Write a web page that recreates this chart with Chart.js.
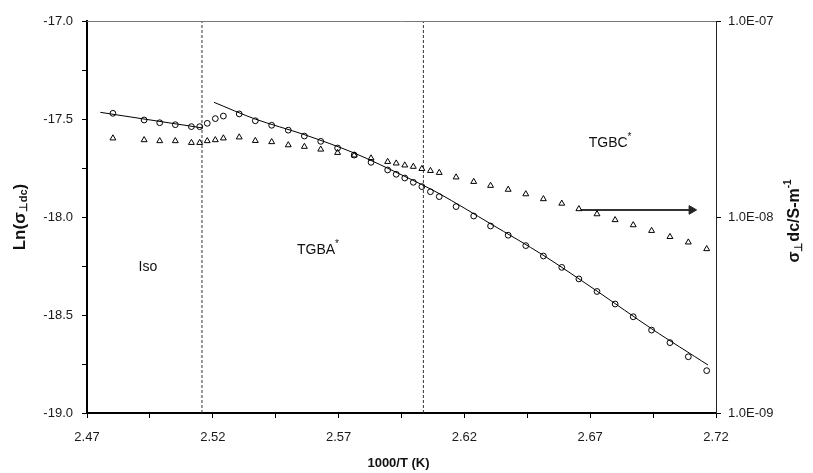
<!DOCTYPE html>
<html><head><meta charset="utf-8">
<script src="https://cdn.jsdelivr.net/npm/chart.js@4.4.1/dist/chart.umd.min.js"></script>
<style>html,body{margin:0;padding:0;background:#fff}#wrap{width:813px;height:473px}</style>
</head><body><div id="wrap"><canvas id="c" width="813" height="473"></canvas></div>
<script>
// ---- data ----
const invT = [2.4803, 2.4927, 2.4989, 2.5051, 2.5115, 2.5148, 2.5178, 2.5210, 2.5242, 2.5305,
  2.5369, 2.5434, 2.5500, 2.5564, 2.5629, 2.5696, 2.5762, 2.5829, 2.5895, 2.5929,
  2.5963, 2.5997, 2.6031, 2.6065, 2.6100, 2.6167, 2.6237, 2.6304, 2.6374, 2.6444,
  2.6514, 2.6587, 2.6655, 2.6727, 2.6799, 2.6871, 2.6944, 2.7017, 2.7090, 2.7163];
const lnSigmaCircle = [-17.471, -17.505, -17.519, -17.529, -17.539, -17.539, -17.522, -17.498, -17.485, -17.474,
  -17.509, -17.532, -17.557, -17.587, -17.614, -17.648, -17.684, -17.721, -17.760, -17.782,
  -17.801, -17.823, -17.845, -17.871, -17.896, -17.947, -17.995, -18.046, -18.093, -18.146,
  -18.199, -18.257, -18.316, -18.380, -18.444, -18.509, -18.577, -18.641, -18.713, -18.784];
const lnSigmaTriangle = [-17.598, -17.607, -17.612, -17.612, -17.621, -17.621, -17.612, -17.607, -17.598, -17.593,
  -17.611, -17.617, -17.633, -17.641, -17.655, -17.672, -17.685, -17.700, -17.718, -17.726,
  -17.736, -17.743, -17.754, -17.764, -17.774, -17.797, -17.820, -17.840, -17.860, -17.883,
  -17.908, -17.931, -17.959, -17.985, -18.015, -18.041, -18.070, -18.101, -18.129, -18.163];
const fitIsoX = [2.4753, 2.5161];
const fitIsoY = [-17.466, -17.546];
const fitTgbX = [2.5205, 2.5368, 2.5562, 2.5761, 2.5960, 2.6099, 2.6306, 2.6512, 2.6727, 2.6945, 2.7168];
const fitTgbY = [-17.415, -17.500, -17.579, -17.673, -17.791, -17.880, -18.036, -18.194, -18.378, -18.571, -18.755];
const phaseBoundaries = [2.5157, 2.6037];
const arrowX = [2.6662, 2.7103];
const arrowY = [-17.964, -17.964];
const phaseLabels = ['Iso', 'TGBA', 'TGBC'];
const phaseLabelX = [2.4942, 2.5618, 2.6779];
const phaseLabelY = [-18.255, -18.168, -17.622];

const xTicks = [2.47, 2.495, 2.52, 2.545, 2.57, 2.595, 2.62, 2.645, 2.67, 2.695, 2.72];
const xTickLabels = ['2.47', '', '2.52', '', '2.57', '', '2.62', '', '2.67', '', '2.72'];
const yTicks = [-19, -18.75, -18.5, -18.25, -18, -17.75, -17.5, -17.25, -17];
const yTickLabels = ['-19.0', '', '-18.5', '', '-18.0', '', '-17.5', '', '-17.0'];
const y2Ticks = [1e-9, 1e-8, 1e-7];
const y2TickLabels = ['1.0E-09', '1.0E-08', '1.0E-07'];

// ---- chart ----
const FONT = "'Liberation Sans', Arial, sans-serif";
const pts = (xs, ys) => xs.map((x, i) => ({x: x, y: ys[i]}));

function drawRich(ctx, parts, cx, cy, angle) {
  ctx.save();
  ctx.translate(cx, cy);
  ctx.rotate(angle);
  ctx.textBaseline = 'middle';
  ctx.textAlign = 'left';
  let total = 0;
  parts.forEach(p => { ctx.font = p.f; p.w = ctx.measureText(p.t).width; total += p.w; });
  let x = -total / 2;
  parts.forEach(p => { ctx.font = p.f; ctx.fillText(p.t, x, p.dy || 0); x += p.w; });
  ctx.restore();
}

const decor = {
  id: 'decor',
  afterDraw(chart) {
    const ctx = chart.ctx, a = chart.chartArea;
    const sx = chart.scales.x, sy = chart.scales.y;
    ctx.save();
    // thin top frame line
    ctx.strokeStyle = '#777';
    ctx.lineWidth = 1;
    ctx.beginPath();
    ctx.moveTo(a.left, a.top + 0.5);
    ctx.lineTo(a.right, a.top + 0.5);
    ctx.stroke();
    ctx.fillStyle = '#111';
    // phase labels
    phaseLabels.forEach((lab, i) => {
      const px = sx.getPixelForValue(phaseLabelX[i]);
      const py = sy.getPixelForValue(phaseLabelY[i]);
      const parts = [{t: lab, f: '14px ' + FONT}];
      if (i > 0) parts.push({t: '*', f: '10px ' + FONT, dy: -6});
      drawRich(ctx, parts, px, py, 0);
    });
    // axis titles
    drawRich(ctx, [{t: 'Ln(', f: 'bold 17px ' + FONT}, {t: 'σ', f: 'bold 17px ' + FONT},
      {t: '⊥dc', f: 'bold 11px ' + FONT, dy: 4}, {t: ')', f: 'bold 17px ' + FONT}],
      20, (a.top + a.bottom) / 2, -Math.PI / 2);
    drawRich(ctx, [{t: 'σ', f: 'bold 16px ' + FONT}, {t: '⊥', f: 'bold 11px ' + FONT, dy: 4},
      {t: 'dc/S-m', f: 'bold 16px ' + FONT}, {t: '-1', f: 'bold 10px ' + FONT, dy: -7}],
      795, (a.top + a.bottom) / 2 + 4, -Math.PI / 2);
    drawRich(ctx, [{t: '1000/T (K)', f: 'bold 13px ' + FONT}], (a.left + a.right) / 2 - 3, 463, 0);
    ctx.restore();
  }
};

const lineDs = (data, extra) => Object.assign({
  data: data, showLine: true, pointRadius: 0, borderColor: '#000', borderWidth: 1,
  fill: false, tension: 0
}, extra || {});

const tickFont = {family: FONT, size: 13};

new Chart(document.getElementById('c'), {
  type: 'scatter',
  data: {
    datasets: [
      {label: 'circle', data: pts(invT, lnSigmaCircle), pointStyle: 'circle', pointRadius: 2.9,
        borderColor: '#000', borderWidth: 1, backgroundColor: 'rgba(0,0,0,0)'},
      {label: 'triangle', data: pts(invT, lnSigmaTriangle), pointStyle: 'triangle', pointRadius: 3.4,
        borderColor: '#000', borderWidth: 1, backgroundColor: 'rgba(0,0,0,0)'},
      lineDs(pts(fitIsoX, fitIsoY)),
      lineDs(pts(fitTgbX, fitTgbY), {tension: 0.3}),
      lineDs([{x: phaseBoundaries[0], y: -19}, {x: phaseBoundaries[0], y: -17}], {borderDash: [3, 2], borderColor: '#333'}),
      lineDs([{x: phaseBoundaries[1], y: -19}, {x: phaseBoundaries[1], y: -17}], {borderDash: [3, 2], borderColor: '#333'}),
      lineDs(pts(arrowX, arrowY), {borderColor: '#333', borderWidth: 2, pointRadius: [0, 5],
        pointStyle: 'triangle', rotation: 90, pointBackgroundColor: '#222', pointBorderColor: '#222', pointBorderWidth: 1})
    ]
  },
  options: {
    responsive: false,
    animation: false,
    devicePixelRatio: 1,
    layout: {padding: {top: 21, left: 0, right: 0, bottom: 0}},
    plugins: {legend: {display: false}, tooltip: {enabled: false}},
    scales: {
      x: {
        type: 'linear', position: 'bottom', min: 2.47, max: 2.72,
        afterBuildTicks: s => { s.ticks = xTicks.map(v => ({value: v})); },
        afterFit: s => { s.height = 60; },
        ticks: {callback: (v, i) => xTickLabels[i], font: tickFont, color: '#1a1a1a',
          padding: 12, maxRotation: 0, autoSkip: false},
        grid: {drawOnChartArea: false, drawTicks: true, tickLength: 5, color: '#000', tickWidth: 1},
        border: {color: '#000', width: 2}
      },
      y: {
        type: 'linear', position: 'left', min: -19, max: -17,
        afterBuildTicks: s => { s.ticks = yTicks.map(v => ({value: v})); },
        afterFit: s => { s.width = 87; },
        ticks: {callback: (v, i) => yTickLabels[i], font: tickFont, color: '#1a1a1a',
          padding: 9, autoSkip: false},
        grid: {drawOnChartArea: false, drawTicks: true, tickLength: 5, color: '#000', tickWidth: 1},
        border: {color: '#000', width: 2}
      },
      y2: {
        type: 'logarithmic', position: 'right', min: 1e-9, max: 1e-7,
        afterBuildTicks: s => { s.ticks = y2Ticks.map(v => ({value: v})); },
        afterFit: s => { s.width = 97; },
        ticks: {callback: (v, i) => y2TickLabels[i], font: tickFont, color: '#1a1a1a',
          padding: 7, autoSkip: false},
        grid: {drawOnChartArea: false, drawTicks: true, tickLength: 5, color: '#000', tickWidth: 1},
        border: {color: '#222', width: 1}
      }
    }
  },
  plugins: [decor]
});
</script></body></html>
